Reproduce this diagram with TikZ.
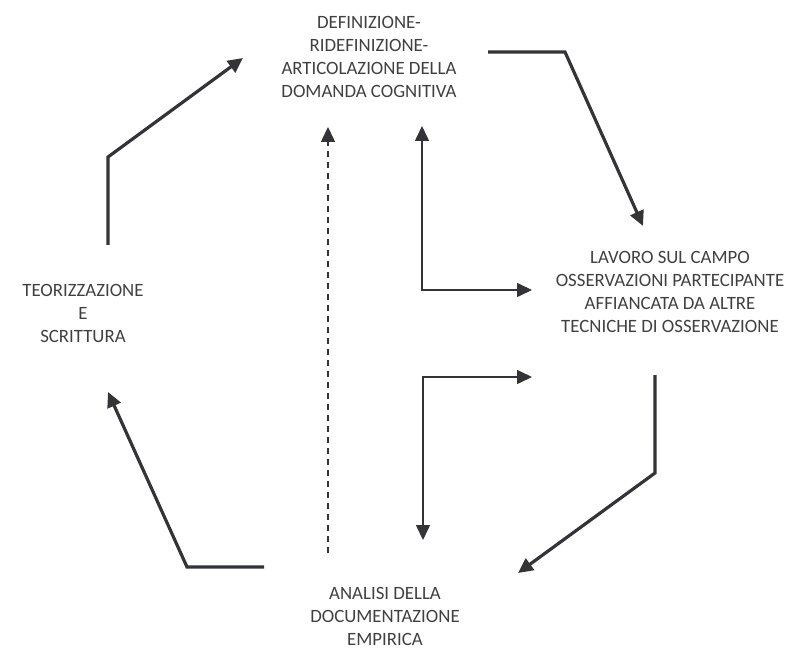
\documentclass[tikz,border=0pt]{standalone}
\usepackage{fontspec}
\setmainfont{Carlito}
\usetikzlibrary{arrows.meta}
\definecolor{ink}{HTML}{333338}
\definecolor{txt}{HTML}{404040}
\tikzset{>={Triangle[length=15pt,width=14pt]}}
\tikzset{
    phase/.style={align=center, text=txt, inner sep=0pt, font=\fontsize{18.8}{23}\selectfont},
    fat/.style={ink, line width=3.2pt, ->},
    slim/.style={ink, line width=1.6pt},
}

\begin{document}
\begin{tikzpicture}[x=1pt, y=-1pt]
    \useasboundingbox (0, 0) rectangle (787, 652);
    \node[phase] (def) at (369, 57) {DEFINIZIONE-\\RIDEFINIZIONE-\\ARTICOLAZIONE DELLA\\DOMANDA COGNITIVA};
    \node[phase] (lav) at (670, 292) {LAVORO SUL CAMPO\\OSSERVAZIONI PARTECIPANTE\\AFFIANCATA DA ALTRE\\TECNICHE DI OSSERVAZIONE};
    \node[phase] (ana) at (385, 616) {ANALISI DELLA\\DOCUMENTAZIONE\\EMPIRICA};
    \node[phase] (teo) at (83, 313) {TEORIZZAZIONE\\E\\SCRITTURA};
    % cycle
    \coordinate (teoA) at (108, 245); \coordinate (teoB) at (108, 157); \coordinate (defIn) at (243, 58);
    \coordinate (defA) at (488, 52); \coordinate (defB) at (565, 52); \coordinate (lavIn) at (643, 226);
    \coordinate (lavA) at (655, 375); \coordinate (lavB) at (655, 473); \coordinate (anaIn) at (518, 573);
    \coordinate (anaA) at (264, 567); \coordinate (anaB) at (187, 567); \coordinate (teoIn) at (108, 392);
    \draw[fat](teoA)--(teoB)--(defIn);
    \draw[fat](defA)--(defB)--(lavIn);
    \draw[fat](lavA)--(lavB)--(anaIn);
    \draw[fat](anaA)--(anaB)--(teoIn);
    % feedback
    \coordinate (upA) at (422, 126); \coordinate (upB) at (422, 290); \coordinate (upC) at (532, 290);
    \coordinate (dnA) at (423, 540); \coordinate (dnB) at (423, 377); \coordinate (dnC) at (532, 377);
    \draw[slim, <->](upA)--(upB)--(upC);
    \draw[slim, <->](dnA)--(dnB)--(dnC);
    \coordinate (dashA) at (328, 553); \coordinate (dashB) at (328, 127);
    \draw[slim, ->, line width=1.5pt, dash pattern=on 6pt off 5pt](dashA)--(dashB);
\end{tikzpicture}
\end{document}
